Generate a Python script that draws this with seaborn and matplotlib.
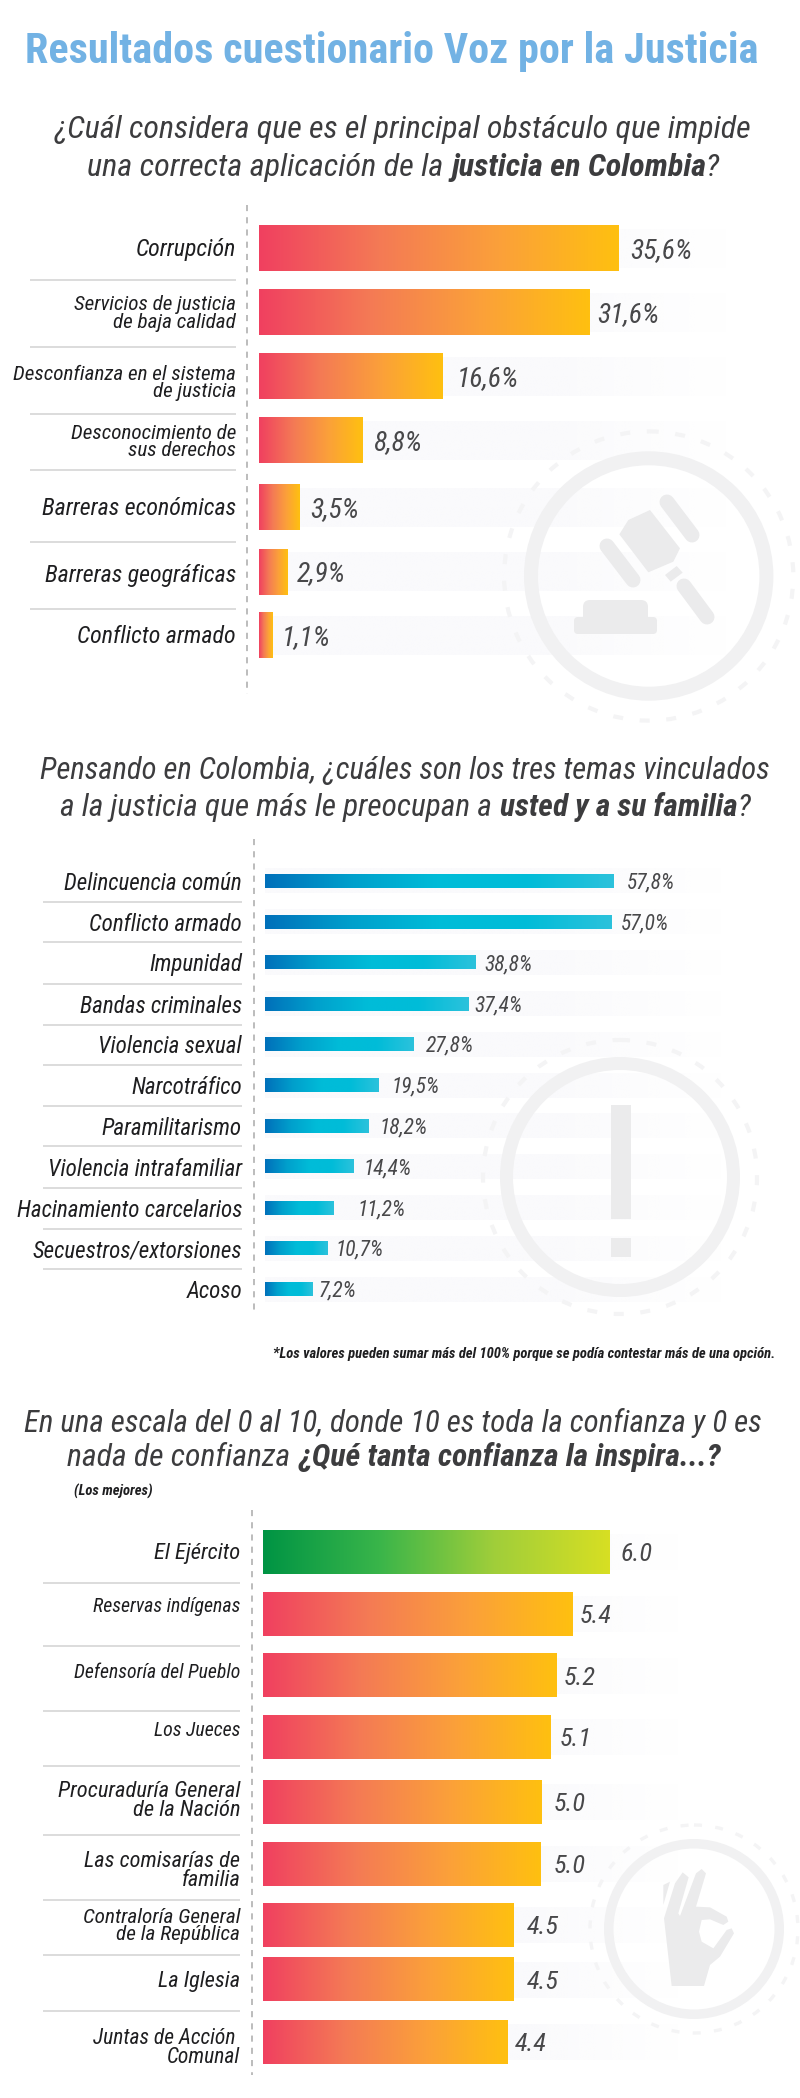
# Resultados cuestionario Voz por la Justicia - three gradient bar panels
import numpy as np
import pandas as pd
import matplotlib
matplotlib.use("Agg")
import matplotlib.pyplot as plt
import seaborn as sns
from matplotlib.colors import LinearSegmentedColormap, to_rgb
from matplotlib.patches import Circle, FancyBboxPatch, Polygon, Rectangle

# panel 1 - principal obstaculo
obstaculos = ["Corrupción", "Servicios de justicia\nde baja calidad", "Desconfianza en el sistema\nde justicia",
              "Desconocimiento de\nsus derechos", "Barreras económicas", "Barreras geográficas", "Conflicto armado"]
obstaculos_txt = ["35,6%", "31,6%", "16,6%", "8,8%", "3,5%", "2,9%", "1,1%"]
# bar lengths, they are not strictly proportional to the printed numbers
obstaculos_len = [35.6, 32.8, 18.2, 10.3, 4.0, 2.8, 1.3]

# panel 2 - temas que preocupan
temas = ["Delincuencia común", "Conflicto armado", "Impunidad", "Bandas criminales", "Violencia sexual", "Narcotráfico",
         "Paramilitarismo", "Violencia intrafamiliar", "Hacinamiento carcelarios", "Secuestros/extorsiones", "Acoso"]
temas_txt = ["57,8%", "57,0%", "38,8%", "37,4%", "27,8%", "19,5%", "18,2%", "14,4%", "11,2%", "10,7%", "7,2%"]
temas_len = [57.8, 57.4, 34.9, 33.7, 24.7, 18.8, 17.2, 14.7, 11.4, 10.4, 7.9]

# panel 3 - confianza
entidades = ["El Ejército", "Reservas indígenas", "Defensoría del Pueblo", "Los Jueces", "Procuraduría General\nde la Nación",
             "Las comisarías de\nfamilia", "Contraloría General\nde la República", "La Iglesia", "Juntas de Acción \nComunal"]
entidades_txt = ["6.0", "5.4", "5.2", "5.1", "5.0", "5.0", "4.5", "4.5", "4.4"]
entidades_len = [6.0, 5.37, 5.08, 4.99, 4.83, 4.81, 4.34, 4.34, 4.24]

# layout, everything in figure pixels from the top left
W, H = 800, 2098
rows_1 = [248.7, 312.5, 376.3, 440.6, 507.6, 571.9, 635.7]
rows_2 = [880.8, 921.9, 962.5, 1003.6, 1044.2, 1085.3, 1125.9, 1166.5, 1207.6, 1248.2, 1289.3]
rows_3 = [1552.3, 1614.2, 1675.6, 1737.5, 1802, 1864, 1925.4, 1979.7, 2042]

RED = LinearSegmentedColormap.from_list("red", ["#F04060", "#F47A55", "#FBA03A", "#FFC010"])
BLUE = LinearSegmentedColormap.from_list("blue", ["#0070BA", "#00A0CC", "#00BCD8", "#00BCD8", "#2CC2DC"])
GREEN = LinearSegmentedColormap.from_list("green", ["#009444", "#39B54A", "#A0CE3A", "#D7DF23"])

NARROW = ["Liberation Sans Narrow", "Roboto Condensed", "DejaVu Sans"]
DARK = "#3C3C3E"
INK = "#1E1E20"
GRID = "#D9D9D9"
WM = "#F1F1F2"
ICON = "#EBEBEC"

sns.set_theme(style="white")
plt.rcParams["font.family"] = NARROW

fig = plt.figure(figsize=(W / 100, H / 100), dpi=100, facecolor="white")


def full_axes(z):
    a = fig.add_axes([0, 0, 1, 1], zorder=z)
    a.set_xlim(0, W)
    a.set_ylim(H, 0)
    a.axis("off")
    return a


back = full_axes(0)
front = full_axes(5)
fade = np.zeros((1, 256, 4))
fade[..., :3] = to_rgb("#FAFAFC")
fade[..., 3] = np.clip((1 - np.linspace(0, 1, 256)) * 2.5, 0, 1)


def panel(lengths, texts, rows, x0, px_per_unit, bar_h, cmaps, track_h, track_end, text_x, text_dy, value_size):
    # one axes per panel: x is the value scale, y stays in figure pixels
    ax = fig.add_axes([x0 / W, 0, 1 - x0 / W, 1], zorder=2)
    df = pd.DataFrame({"length": lengths, "row": rows})
    sns.barplot(data=df, x="length", y="row", orient="y", native_scale=True, errorbar=None,
                width=bar_h / np.diff(rows).min(), color="#F47A55", ax=ax)
    grad = np.linspace(0, 1, 256).reshape(1, -1)
    for bar, cmap in zip(ax.patches, cmaps):
        b = bar.get_bbox()
        ax.imshow(grad, cmap=cmap, aspect="auto", extent=(b.x0, b.x1, b.y1, b.y0), zorder=3)
        bar.set_visible(False)
    ax.set_xlim(0, (W - x0) / px_per_unit)
    ax.set_ylim(H, 0)
    ax.axis("off")
    ax.patch.set_alpha(0)
    for r, t, tx in zip(rows, texts, text_x):
        # faint track sits under the watermark icon
        back.imshow(fade, aspect="auto", extent=(x0, track_end, r + track_h / 2, r - track_h / 2), zorder=0.5)
        front.text(tx, r + text_dy, t, fontsize=value_size, style="italic", color="#48484A", va="center", ha="left")
    back.set_xlim(0, W)
    back.set_ylim(H, 0)


def fit_runs(x_left, x_right, y, runs, color=DARK, guess=20, style="italic"):
    # lay out regular + bold runs on one line and scale the size to the width seen in the picture
    arts = [front.text(0, y, t, fontsize=guess, style=style, weight=w, color=color, va="center", ha="left") for t, w, _ in runs]
    r = fig.canvas.get_renderer()
    widths = [a.get_window_extent(r).width for a in arts]
    gap = 0.26 * guess * 100 / 72
    gaps = [gap if g else 0 for _, _, g in runs]
    k = (x_right - x_left) / (sum(widths) + sum(gaps))
    x = x_left
    for a, w, g in zip(arts, widths, gaps):
        a.set_fontsize(guess * k)
        a.set_x(x)
        x += (w + g) * k


def row_labels(labels, ys, right, sizes):
    for lab, y, s in zip(labels, ys, sizes):
        front.text(right, y, lab, fontsize=s, style="italic", color=INK, ha="right", va="center", linespacing=0.92)


def rules(x0, x1, ys):
    for y in ys:
        front.plot([x0, x1], [y, y], color=GRID, lw=1.3, solid_capstyle="butt")


def dashed(x, y0, y1):
    front.plot([x, x], [y0, y1], color="#A9A9A9", lw=1.1, ls=(0, (4, 4)))


def ring(cx, cy, r, thick, r_dash, lw_dash=3):
    back.add_patch(Circle((cx, cy), r - thick / 2, fill=False, ec=WM, lw=thick * 0.72, zorder=1))
    back.add_patch(Circle((cx, cy), r_dash, fill=False, ec="#F4F4F5", lw=lw_dash, ls=(0, (2.4, 4)), zorder=1))


def stroke(p0, p1, width):
    back.plot([p0[0], p1[0]], [p0[1], p1[1]], color=ICON, lw=width * 0.72, solid_capstyle="round", zorder=1)


def crop_poly(points, ox, oy):
    # outlines taken from 3x crops of the reference
    back.add_patch(Polygon([(ox + x / 3, oy + y / 3) for x, y in points], fc=ICON, ec="none", zorder=1))


# title
fit_runs(25, 757, 52, [("Resultados cuestionario Voz por la Justicia", "bold", False)], color="#72B2E4", guess=34, style="normal")

# ---- panel 1
fit_runs(55, 750, 130, [("¿Cuál considera que es el principal obstáculo que impide", "normal", False)])
fit_runs(87, 719, 167.5, [("una correcta aplicación de la", "normal", True), ("justicia en Colombia", "bold", False), ("?", "normal", False)])
ring(648.7, 576, 124.7, 14, 144.6)
# gavel
stroke((667, 502), (692, 535), 15)
stroke((607, 546), (633, 580), 15)
crop_poly([(450, 210), (540, 325), (520, 365), (445, 397), (358, 283), (385, 240)], 500, 440)
crop_poly([(495, 405), (530, 378), (548, 398), (512, 425)], 500, 440)
stroke((684, 586), (707, 617), 15)
back.add_patch(FancyBboxPatch((574, 617), 83, 17, boxstyle="round,pad=0,rounding_size=4", fc=ICON, ec="none", zorder=1))
back.add_patch(FancyBboxPatch((583, 600), 65, 24, boxstyle="round,pad=0,rounding_size=7", fc=ICON, ec="none", zorder=1))
panel(obstaculos_len, obstaculos_txt, rows_1, 259, 10.09, 45.5, [RED] * 7, 39, 728,
      [630, 597, 457, 373, 310, 297, 282], 2.5, 20)
dashed(247, 205, 694)
row_labels(obstaculos, [249.5, 313.5, 383, 442, 508.5, 575.5, 636.5], 236, [17.2, 15.2, 15.2, 15.2, 17.2, 17.2, 17.2])
rules(30, 236, [280, 347, 414, 470, 542, 608.5])

# ---- panel 2
fit_runs(40, 770, 770.5, [("Pensando en Colombia, ¿cuáles son los tres temas vinculados", "normal", False)])
fit_runs(60, 750, 807.5, [("a la justicia que más le preocupan a", "normal", True), ("usted y a su familia", "bold", False), ("?", "normal", False)])
ring(620, 1177, 120, 13, 137)
back.add_patch(Rectangle((611, 1105), 20, 114, fc=ICON, ec="none", zorder=1))
back.add_patch(Rectangle((611, 1238), 20, 19, fc=ICON, ec="none", zorder=1))
panel(temas_len, temas_txt, rows_2, 264.8, 6.03, 14, [BLUE] * 11, 25, 722,
      [626.5, 621, 484.7, 474.5, 426, 391.3, 379, 363.8, 357, 335.7, 318.9], 2, 15.5)
dashed(253.6, 839, 1314)
row_labels(temas, [r + 2.5 for r in rows_2], 242, [16.6] * 11)
rules(43, 242, [901.8, 942.4, 983.5, 1024.6, 1065.2, 1105.8, 1146.4, 1187.5, 1228.6, 1269.2])
fit_runs(273, 777, 1354, [("*Los valores pueden sumar más del 100% porque se podía contestar más de una opción.", "bold", False)],
         color=INK, guess=11)

# ---- panel 3
fit_runs(24.5, 763, 1423, [("En una escala del 0 al 10, donde 10 es toda la confianza y 0 es", "normal", False)])
fit_runs(67, 721, 1457, [("nada de confianza", "normal", True), ("¿Qué tanta confianza la inspira...?", "bold", False)])
front.text(74, 1491, "(Los mejores)", fontsize=10.5, style="italic", weight="bold", color=INK, va="center", ha="left")
ring(694, 1929, 90, 9.5, 104, 2.4)
crop_poly([(335, 408), (312, 205), (345, 100), (368, 67), (386, 82), (355, 190), (360, 198), (408, 70), (425, 57), (438, 70),
           (408, 170), (450, 172), (500, 200), (505, 215), (490, 225), (450, 208), (425, 210), (417, 245), (425, 275),
           (460, 295), (500, 240), (515, 235), (522, 250), (480, 320), (450, 345), (432, 408)], 560, 1850)
crop_poly([(310, 105), (330, 95), (310, 165)], 560, 1850)
panel(entidades_len, entidades_txt, rows_3, 263.3, 57.7, 43.6, [GREEN] + [RED] * 8, 36, 680,
      [621, 580, 564, 560, 553.6, 553.6, 526.5, 526.5, 515.3], 2, 19)
dashed(251.5, 1510, 2074.5)
row_labels(entidades, [1553, 1606, 1672.7, 1730.6, 1801, 1871, 1926, 1981.7, 2048], 240.3,
           [16.2, 14.3, 14.2, 14.3, 16.2, 16, 15.3, 16, 15.5])
rules(43, 240, [1582.5, 1646, 1710.8, 1765.5, 1835, 1899.6, 1954.8, 2011.3])

fig.savefig("out.png", dpi=100, facecolor="white")
